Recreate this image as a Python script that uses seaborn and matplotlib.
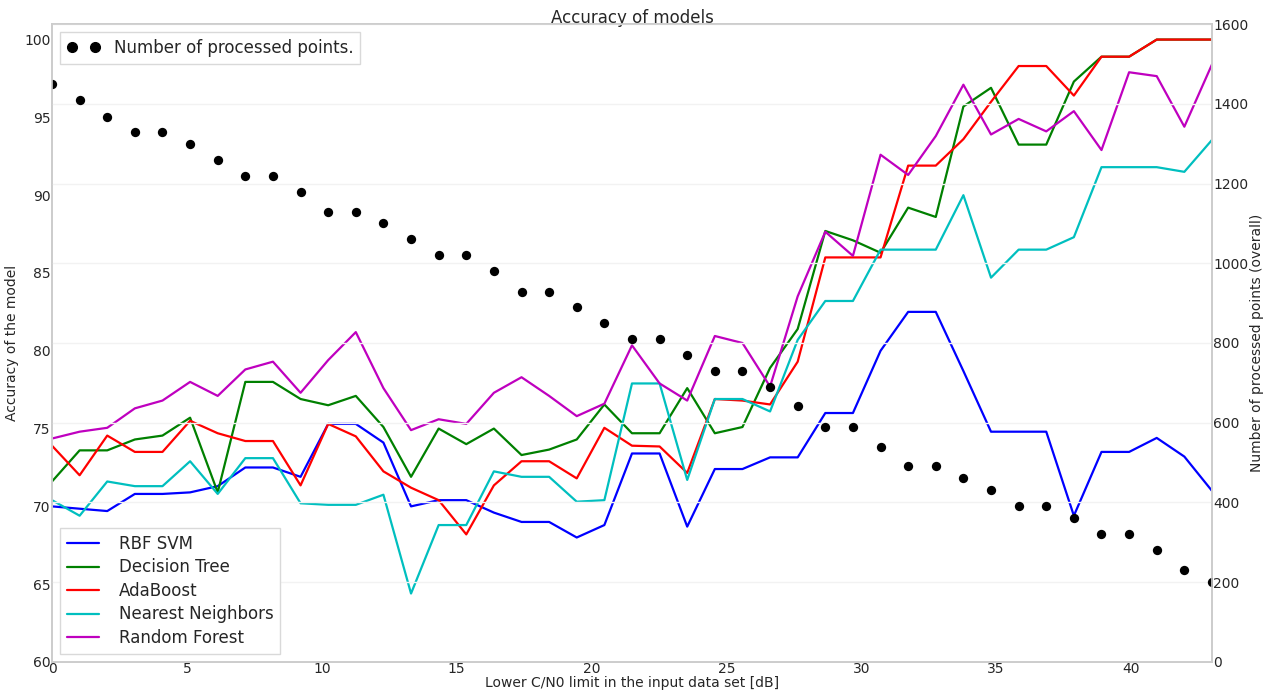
import numpy as np
import pandas as pd
import matplotlib
matplotlib.use("Agg")
import matplotlib.pyplot as plt
import seaborn as sns
from matplotlib.lines import Line2D

# C/N0 lower limits used to filter the input data set [dB]
cn0_limits = np.linspace(0, 43, 43)

models = ["RBF SVM", "Decision Tree", "AdaBoost", "Nearest Neighbors", "Random Forest"]

rbf_svm = [70.0, 69.85, 69.7, 70.8, 70.8, 70.9, 71.3, 72.5, 72.5, 71.9,
           75.3, 75.3, 74.1, 70.0, 70.4, 70.4, 69.6, 69.0, 69.0, 68.0,
           68.8, 73.4, 73.4, 68.7, 72.4, 72.4, 73.15, 73.15, 76.0, 76.0,
           80.0, 82.5, 82.5, 78.7, 74.8, 74.8, 74.8, 69.4, 73.5, 73.5,
           74.4, 73.2, 71.0]
decision_tree = [71.6, 73.6, 73.6, 74.3, 74.55, 75.7, 70.9, 78.0, 78.0, 76.9,
                 76.5, 77.1, 75.1, 71.9, 75.0, 74.0, 75.0, 73.3, 73.65, 74.3,
                 76.55, 74.7, 74.7, 77.6, 74.7, 75.1, 78.9, 81.4, 87.7, 87.1,
                 86.3, 89.2, 88.6, 95.7, 96.9, 93.25, 93.25, 97.3, 98.9, 98.9,
                 100.0, 100.0, 100.0]
adaboost = [73.9, 72.0, 74.55, 73.5, 73.5, 75.5, 74.7, 74.2, 74.2, 71.35,
            75.3, 74.5, 72.25, 71.2, 70.4, 68.2, 71.35, 72.9, 72.9, 71.8,
            75.05, 73.9, 73.85, 72.15, 76.9, 76.8, 76.55, 79.3, 86.0, 86.0,
            86.0, 91.9, 91.9, 93.6, 96.0, 98.3, 98.3, 96.4, 98.9, 98.9,
            100.0, 100.0, 100.0]
nearest_neighbors = [70.4, 69.4, 71.6, 71.3, 71.3, 72.9, 70.8, 73.1, 73.1, 70.2,
                     70.1, 70.1, 70.75, 64.4, 68.8, 68.8, 72.25, 71.9, 71.9, 70.3,
                     70.4, 77.9, 77.9, 71.7, 76.9, 76.9, 76.1, 80.7, 83.2, 83.2,
                     86.5, 86.5, 86.5, 90.0, 84.7, 86.5, 86.5, 87.3, 91.8, 91.8,
                     91.8, 91.5, 93.55]
random_forest = [74.36, 74.8, 75.05, 76.3, 76.8, 78.0, 77.1, 78.8, 79.3, 77.3,
                 79.4, 81.2, 77.6, 74.9, 75.6, 75.3, 77.3, 78.3, 77.1, 75.8,
                 76.6, 80.35, 77.9, 76.8, 80.95, 80.5, 77.7, 83.5, 87.65, 86.1,
                 92.6, 91.3, 93.8, 97.1, 93.9, 94.9, 94.1, 95.4, 92.9, 97.9,
                 97.65, 94.4, 98.4]

processed_points = [1449, 1409, 1368, 1328, 1328, 1298, 1259, 1219, 1219, 1178,
                    1129, 1129, 1100, 1060, 1020, 1020, 980, 929, 929, 891,
                    850, 810, 810, 771, 730, 730, 690, 641, 590, 590,
                    540, 491, 491, 461, 431, 391, 391, 361, 320, 320,
                    281, 230, 201]

left_ticks = [60, 65, 70, 75, 80, 85, 90, 95, 100]
right_ticks = [0, 200, 400, 600, 800, 1000, 1200, 1400, 1600]
x_ticks = [0, 5, 10, 15, 20, 25, 30, 35, 40]

colors = ["#0000ff", "#008000", "#ff0000", "#00bfbf", "#bf00bf"]

sns.set_style("whitegrid")
plt.rcParams["font.family"] = ["DejaVu Sans"]
text_color = "#262626"
spine_color = "#cccccc"

accuracy = pd.DataFrame({
    "limit": np.tile(cn0_limits, len(models)),
    "accuracy": np.concatenate([rbf_svm, decision_tree, adaboost,
                                nearest_neighbors, random_forest]),
    "model": np.repeat(models, len(cn0_limits)),
})

fig = plt.figure(figsize=(12.73, 6.9), dpi=100)
ax = fig.add_axes([0.04085, 0.0406, 0.9112, 0.9246])

sns.lineplot(data=accuracy, x="limit", y="accuracy", hue="model",
             hue_order=models, palette=dict(zip(models, colors)),
             linewidth=1.6, legend=False, ax=ax)
ax.set_xlim(0, 43)
ax.set_ylim(60, 101)
ax.set_xticks(x_ticks)
ax.set_yticks(left_ticks)
ax.grid(False)
ax.set_xlabel("Lower C/N0 limit in the input data set [dB]", fontsize=10,
              color=text_color)
ax.xaxis.set_label_coords(0.5, -0.0223)
ax.set_ylabel("Accuracy of the model", fontsize=10, color=text_color, labelpad=4)
ax.tick_params(axis="y", length=0, pad=1, labelsize=10, labelcolor=text_color)
ax.tick_params(axis="x", length=0, pad=0, labelsize=10, labelcolor=text_color)
ax.set_title("Accuracy of models", fontsize=12, color=text_color, pad=1, y=1.0)

ax2 = ax.twinx()
sns.scatterplot(x=cn0_limits, y=processed_points, color="black", s=45,
                linewidth=0, legend=False, ax=ax2)
ax2.set_ylim(0, 1600)
ax2.set_yticks(right_ticks)
ax2.grid(True, axis="y", color="#f2f2f2", linewidth=1)
ax2.grid(False, axis="x")
ax2.set_ylabel("Number of processed points (overall)", fontsize=10,
               color=text_color, labelpad=1)
ax2.tick_params(axis="both", length=0, pad=1, labelsize=10, labelcolor=text_color)

for a in (ax, ax2):
    for spine in a.spines.values():
        spine.set_color(spine_color)
        spine.set_linewidth(1.2)

# legends live on the top axes so nothing draws over them
dot_handle = Line2D([], [], marker="o", linestyle="", color="black", markersize=7)
leg_top = ax2.legend([dot_handle], ["Number of processed points."], loc="upper left",
                     numpoints=2, fontsize=12, frameon=True, fancybox=False,
                     edgecolor="#d9d9d9", facecolor="white", framealpha=1)
for t in leg_top.get_texts():
    t.set_color(text_color)
ax2.add_artist(leg_top)

line_handles = ax.get_lines()[:len(models)]
leg_models = ax2.legend(line_handles, models, loc="lower left", fontsize=12,
                        frameon=True, fancybox=False, edgecolor="#d9d9d9",
                        facecolor="white", framealpha=1, handlelength=1.9,
                        handletextpad=1.2, labelspacing=0.33)
for t in leg_models.get_texts():
    t.set_color(text_color)

fig.savefig("out.png", dpi=100)
